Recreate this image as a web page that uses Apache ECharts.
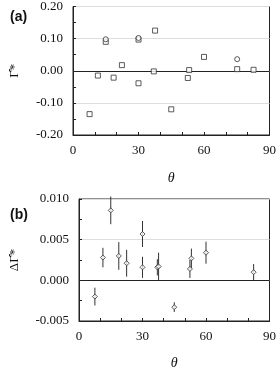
<!DOCTYPE html>
<html><head><meta charset="utf-8">
<script src="https://cdn.jsdelivr.net/npm/echarts@6/dist/echarts.min.js"></script>
<style>html,body{margin:0;padding:0;background:#fff}#c{width:279px;height:371px}</style>
</head><body><div id="c"></div>
<script>
// Panel (a): open squares
const thetaASq = [7.6, 11.4, 15, 18.6, 22.4, 30, 30, 37, 37.6, 45, 52.6, 53.2, 60, 75.2, 82.7];
const gammaASq = [-0.135, -0.015, 0.090, -0.0215, 0.0175, 0.097, -0.039, -0.002, 0.125, -0.120, -0.0225, 0.002, 0.043, 0.005, 0.003];
// Panel (a): open circles
const thetaACi = [15, 30, 75.2];
const gammaACi = [0.098, 0.102, 0.036];
// Panel (b)
const thetaB = [7.5, 11.3, 15, 18.8, 22.5, 30, 30, 37, 37.6, 45, 52.4, 53.1, 60, 82.5];
const dGammaB = [-0.0020, 0.0028, 0.0086, 0.0030, 0.0021, 0.0057, 0.0016, 0.0016, 0.0017, -0.0033, 0.0014, 0.0027, 0.0034, 0.0010];
const errB = [0.0011, 0.0012, 0.0017, 0.0017, 0.00165, 0.0016, 0.0013, 0.0010, 0.0017, 0.0006, 0.0011, 0.0012, 0.00135, 0.0010];
const xTickLabels = [0, 30, 60, 90];

const chart = echarts.init(document.getElementById('c'), null, {renderer: 'canvas'});
const fontSerif = "'Liberation Serif', 'Times New Roman', serif";
const txt = '#111';

function xAxis(gi) {
  return {
    gridIndex: gi, type: 'value', min: 0, max: 90, interval: 10,
    name: 'θ', nameLocation: 'middle', nameGap: gi === 0 ? 36 : 35,
    nameTextStyle: {fontFamily: fontSerif, fontStyle: 'italic', fontSize: 14, color: txt},
    axisLine: {onZero: false, lineStyle: {color: '#222', width: 1}},
    axisTick: {inside: true, length: 3, lineStyle: {color: '#222'}},
    axisLabel: {fontFamily: fontSerif, fontSize: 13, color: txt, margin: 9,
      formatter: v => xTickLabels.indexOf(v) >= 0 ? String(v) : ''},
    splitLine: {show: false}
  };
}
function errItem(params, api) {
  const x = api.value(0), lo = api.value(1), hi = api.value(2);
  const p1 = api.coord([x, lo]), p2 = api.coord([x, hi]);
  return {type: 'line', shape: {x1: p1[0], y1: p1[1], x2: p2[0], y2: p2[1]},
    style: {stroke: '#333', lineWidth: 1}};
}

const option = {
  animation: false,
  backgroundColor: '#fff',
  title: [
    {text: '(a)', left: 5, top: 5, textStyle: {fontFamily: 'Liberation Sans', fontWeight: 'bold', fontSize: 14, color: '#111'}},
    {text: '(b)', left: 5, top: 203, textStyle: {fontFamily: 'Liberation Sans', fontWeight: 'bold', fontSize: 14, color: '#111'}}
  ],
  grid: [
    {left: 73, top: 5, width: 198, height: 130, show: true, borderColor: '#222', borderWidth: 1, backgroundColor: 'transparent'},
    {left: 79, top: 199, width: 191, height: 129, show: true, borderColor: '#222', borderWidth: 1, backgroundColor: 'transparent'}
  ],
  xAxis: [xAxis(0), xAxis(1)],
  yAxis: [
    {gridIndex: 0, type: 'value', min: -0.2, max: 0.2, interval: 0.1,
      name: 'Γ̂*', nameLocation: 'middle', nameGap: 52,
      nameTextStyle: {fontFamily: fontSerif, fontSize: 13, color: txt},
      axisLine: {lineStyle: {color: '#222'}},
      axisTick: {inside: true, length: 3, lineStyle: {color: '#222'}},
      minorTick: {show: true, splitNumber: 2, length: 3, lineStyle: {color: '#222'}},
      axisLabel: {fontFamily: fontSerif, fontSize: 13, color: txt, margin: 10, formatter: v => v.toFixed(2)},
      splitLine: {show: true, lineStyle: {color: '#ddd', width: 1}}},
    {gridIndex: 1, type: 'value', min: -0.005, max: 0.010, interval: 0.005,
      name: 'ΔΓ̂*', nameLocation: 'middle', nameGap: 58,
      nameTextStyle: {fontFamily: fontSerif, fontSize: 13, color: txt},
      axisLine: {lineStyle: {color: '#222'}},
      axisTick: {inside: true, length: 3, lineStyle: {color: '#222'}},
      minorTick: {show: true, splitNumber: 2, length: 3, lineStyle: {color: '#222'}},
      axisLabel: {fontFamily: fontSerif, fontSize: 13, color: txt, margin: 10, formatter: v => v.toFixed(3)},
      splitLine: {show: true, lineStyle: {color: '#ddd', width: 1}}}
  ],
  series: [
    {type: 'line', xAxisIndex: 0, yAxisIndex: 0, data: [], silent: true,
      markLine: {symbol: 'none', silent: true, label: {show: false},
        lineStyle: {color: '#222', type: 'solid', width: 1}, data: [{yAxis: 0}]}},
    {type: 'line', xAxisIndex: 1, yAxisIndex: 1, data: [], silent: true,
      markLine: {symbol: 'none', silent: true, label: {show: false},
        lineStyle: {color: '#222', type: 'solid', width: 1}, data: [{yAxis: 0}]}},
    {type: 'scatter', xAxisIndex: 0, yAxisIndex: 0, symbol: 'rect', symbolSize: 5,
      itemStyle: {color: '#fff', borderColor: '#333', borderWidth: 1},
      data: thetaASq.map((t, i) => [t, gammaASq[i]]), z: 5},
    {type: 'scatter', xAxisIndex: 0, yAxisIndex: 0, symbol: 'circle', symbolSize: 5,
      itemStyle: {color: '#fff', borderColor: '#333', borderWidth: 1},
      data: thetaACi.map((t, i) => [t, gammaACi[i]]), z: 5},
    {type: 'custom', xAxisIndex: 1, yAxisIndex: 1, renderItem: errItem,
      data: thetaB.map((t, i) => [t, dGammaB[i] - errB[i], dGammaB[i] + errB[i]]), z: 4},
    {type: 'scatter', xAxisIndex: 1, yAxisIndex: 1, symbol: 'diamond', symbolSize: 5,
      itemStyle: {color: '#fff', borderColor: '#333', borderWidth: 1},
      data: thetaB.map((t, i) => [t, dGammaB[i]]), z: 5}
  ]
};
chart.setOption(option);
</script></body></html>
